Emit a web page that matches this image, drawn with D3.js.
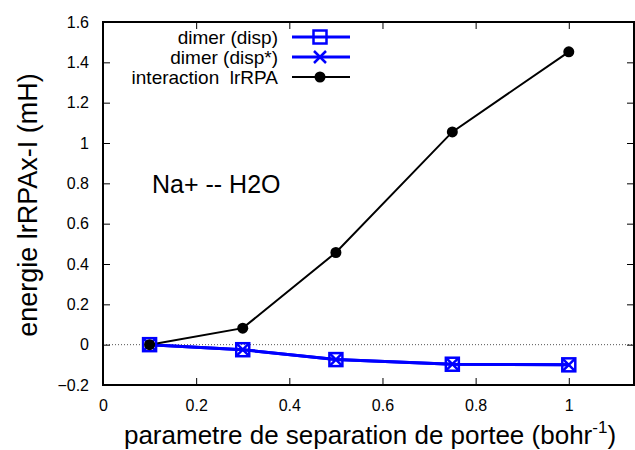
<!DOCTYPE html>
<html>
<head>
<meta charset="utf-8">
<script src="https://cdn.jsdelivr.net/npm/d3@7"></script>
<style>
  body { margin: 0; background: #fff; }
  text { font-family: "Liberation Sans", Arial, sans-serif; }
</style>
</head>
<body>
<div id="chart"></div>
<script>
var width = 635;
var height = 450;
var margin = {top: 22, left: 103, right: 1, bottom: 65};

// data
var xValues = [0.1, 0.3, 0.5, 0.75, 1.0];
var dimerDisp = [0, -0.025, -0.074, -0.097, -0.1];
var dimerDispStar = [0, -0.025, -0.074, -0.097, -0.1];
var interaction = [0, 0.082, 0.457, 1.055, 1.452];
var xTicks = [0, 0.2, 0.4, 0.6, 0.8, 1];
var yTicks = [-0.2, 0, 0.2, 0.4, 0.6, 0.8, 1, 1.2, 1.4, 1.6];
var legendLabels = ["dimer (disp)", "dimer (disp*)", "interaction  lrRPA"];

var svg = d3.select("#chart")
  .append("svg")
  .attr("width", width)
  .attr("height", height);

var x = d3.scaleLinear().domain([0, 1.14]).range([margin.left, width - margin.right]);
var y = d3.scaleLinear().domain([-0.2, 1.6]).range([height - margin.bottom, margin.top]);

// zero line
svg.append("line")
  .attr("x1", x(0)).attr("x2", x(1.14))
  .attr("y1", y(0)).attr("y2", y(0))
  .attr("stroke", "#555")
  .attr("stroke-width", 1)
  .attr("stroke-dasharray", "1,2");

// axes
var tickLen = 7;
svg.append("g")
  .attr("transform", "translate(0," + y(-0.2) + ")")
  .call(d3.axisBottom(x).tickValues(xTicks).tickSize(-tickLen).tickPadding(15).tickFormat(d3.format("")))
  .call(function(g) { g.select(".domain").remove(); });
svg.append("g")
  .attr("transform", "translate(0," + y(1.6) + ")")
  .call(d3.axisTop(x).tickValues(xTicks).tickSize(-tickLen).tickFormat(""))
  .call(function(g) { g.select(".domain").remove(); });
svg.append("g")
  .attr("transform", "translate(" + x(0) + ",0)")
  .call(d3.axisLeft(y).tickValues(yTicks).tickSize(-tickLen).tickPadding(14).tickFormat(d3.format("")))
  .call(function(g) { g.select(".domain").remove(); });
svg.append("g")
  .attr("transform", "translate(" + (width - margin.right) + ",0)")
  .call(d3.axisRight(y).tickValues(yTicks).tickSize(-tickLen).tickFormat(""))
  .call(function(g) { g.select(".domain").remove(); });

svg.selectAll(".tick line").attr("stroke", "#000").attr("stroke-width", 1);
svg.selectAll(".tick text")
  .attr("font-size", "16px")
  .attr("fill", "#000")
  .style("font-family", "Liberation Sans, Arial, sans-serif");

// border
svg.append("rect")
  .attr("x", x(0)).attr("y", y(1.6))
  .attr("width", x(1.14) - x(0))
  .attr("height", y(-0.2) - y(1.6))
  .attr("fill", "none")
  .attr("stroke", "#000")
  .attr("stroke-width", 2);

// lines
var line = d3.line().x(function(d) { return x(d[0]); }).y(function(d) { return y(d[1]); });
var pts = function(vals) { return xValues.map(function(v, i) { return [v, vals[i]]; }); };

svg.append("path").datum(pts(dimerDisp))
  .attr("d", line).attr("fill", "none").attr("stroke", "#0000ff").attr("stroke-width", 3);
svg.append("path").datum(pts(dimerDispStar))
  .attr("d", line).attr("fill", "none").attr("stroke", "#0000ff").attr("stroke-width", 3);
svg.append("path").datum(pts(interaction))
  .attr("d", line).attr("fill", "none").attr("stroke", "#000").attr("stroke-width", 2);

function square(g, cx, cy) {
  g.append("rect")
    .attr("x", cx - 6.5).attr("y", cy - 6.5)
    .attr("width", 13).attr("height", 13)
    .attr("fill", "none").attr("stroke", "#0000ff").attr("stroke-width", 2.5);
}
function cross(g, cx, cy) {
  g.append("path")
    .attr("d", "M" + (cx - 6) + "," + (cy - 6) + "L" + (cx + 6) + "," + (cy + 6) +
               "M" + (cx - 6) + "," + (cy + 6) + "L" + (cx + 6) + "," + (cy - 6))
    .attr("stroke", "#0000ff").attr("stroke-width", 2.5);
}
function dot(g, cx, cy) {
  g.append("circle").attr("cx", cx).attr("cy", cy).attr("r", 5.5).attr("fill", "#000");
}

var marks = svg.append("g");
pts(dimerDisp).forEach(function(d) { square(marks, x(d[0]), y(d[1])); });
pts(dimerDispStar).forEach(function(d) { cross(marks, x(d[0]), y(d[1])); });
pts(interaction).forEach(function(d) { dot(marks, x(d[0]), y(d[1])); });

// legend
var legend = svg.append("g");
var legendColors = ["#0000ff", "#0000ff", "#000"];
var legendMarks = [square, cross, dot];
legendLabels.forEach(function(lab, i) {
  var ly = 37 + i * 20;
  legend.append("text")
    .attr("x", 278).attr("y", ly + 7)
    .attr("text-anchor", "end")
    .attr("font-size", "19px")
    .style("white-space", "pre")
    .text(lab);
  legend.append("line")
    .attr("x1", 292).attr("x2", 350)
    .attr("y1", ly).attr("y2", ly)
    .attr("stroke", legendColors[i])
    .attr("stroke-width", i < 2 ? 3 : 2);
  legendMarks[i](legend, 320, ly);
});

// annotation
svg.append("text")
  .attr("x", 152).attr("y", 193)
  .attr("font-size", "25px")
  .text("Na+ -- H2O");

// axis titles
var xt = svg.append("text")
  .attr("x", 370).attr("y", 444)
  .attr("text-anchor", "middle")
  .attr("font-size", "26px");
xt.append("tspan").text("parametre de separation de portee (bohr");
xt.append("tspan").attr("dy", -11).attr("font-size", "17px").text("-1");
xt.append("tspan").attr("dy", 11).text(")");

svg.append("text")
  .attr("transform", "translate(37,205) rotate(-90)")
  .attr("text-anchor", "middle")
  .attr("font-size", "27px")
  .text("energie lrRPAx-I (mH)");
</script>
</body>
</html>
